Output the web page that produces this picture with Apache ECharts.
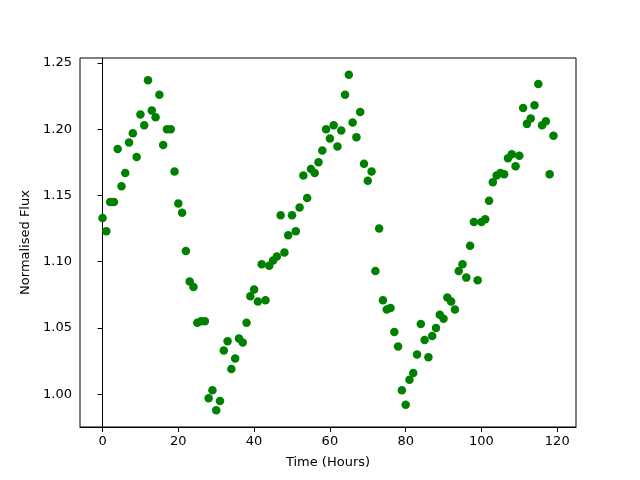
<!DOCTYPE html>
<html>
<head>
<meta charset="utf-8">
<script src="https://cdn.jsdelivr.net/npm/echarts@6/dist/echarts.min.js"></script>
<style>
  html, body { margin: 0; padding: 0; background: #fff; }
  #chart { width: 640px; height: 480px; }
</style>
</head>
<body>
<div id="chart"></div>
<script>
  // hours 0..119, one reading per hour
  var hours = []
  for (var i = 0; i < 120; i++) hours.push(i)

  var flux = [
    1.133, 1.123, 1.145, 1.145, 1.185, 1.157, 1.167, 1.190, 1.197, 1.179,
    1.211, 1.203, 1.237, 1.214, 1.209, 1.226, 1.188, 1.200, 1.200, 1.168,
    1.144, 1.137, 1.108, 1.085, 1.081, 1.054, 1.055, 1.055, 0.997, 1.003,
    0.988, 0.995, 1.033, 1.040, 1.019, 1.027, 1.042, 1.039, 1.054, 1.074,
    1.079, 1.070, 1.098, 1.071, 1.097, 1.101, 1.104, 1.135, 1.107, 1.120,
    1.135, 1.123, 1.141, 1.165, 1.148, 1.170, 1.167, 1.175, 1.184, 1.200,
    1.193, 1.203, 1.187, 1.199, 1.226, 1.241, 1.205, 1.194, 1.213, 1.174,
    1.161, 1.168, 1.093, 1.125, 1.071, 1.064, 1.065, 1.047, 1.036, 1.003,
    0.992, 1.011, 1.016, 1.030, 1.053, 1.041, 1.028, 1.044, 1.050, 1.060,
    1.057, 1.073, 1.070, 1.064, 1.093, 1.098, 1.088, 1.112, 1.130, 1.086,
    1.130, 1.132, 1.146, 1.160, 1.165, 1.167, 1.166, 1.178, 1.181, 1.172,
    1.180, 1.216, 1.204, 1.208, 1.218, 1.234, 1.203, 1.206, 1.166, 1.195
  ]

  var xTicks = [0, 20, 40, 60, 80, 100, 120]
  var yTicks = [1.00, 1.05, 1.10, 1.15, 1.20, 1.25]

  var chart = echarts.init(document.getElementById('chart'))
  var font = 'DejaVu Sans'
  chart.setOption({
    animation: false,
    grid: {
      left: 80, right: 64, top: 58, bottom: 53,
      show: true, borderColor: '#000', borderWidth: 1
    },
    xAxis: {
      type: 'value',
      min: -5.95, max: 124.95,
      name: 'Time (Hours)',
      nameLocation: 'middle',
      nameGap: 29,
      nameTextStyle: { color: '#000', fontSize: 13, fontFamily: font },
      axisLine: { show: true, lineStyle: { color: '#000', width: 1 } },
      axisTick: { show: true, length: 5, lineStyle: { color: '#000' }, customValues: xTicks },
      axisLabel: { color: '#000', fontSize: 13, fontFamily: font, margin: 8, customValues: xTicks },
      splitLine: { show: false }
    },
    yAxis: {
      type: 'value',
      min: 0.9753, max: 1.2537,
      name: 'Normalised Flux',
      nameLocation: 'middle',
      nameGap: 47,
      nameTextStyle: { color: '#000', fontSize: 13, fontFamily: font },
      axisLine: { show: true, lineStyle: { color: '#000', width: 1 } },
      axisTick: { show: true, length: 5, lineStyle: { color: '#000' }, customValues: yTicks },
      axisLabel: {
        color: '#000', fontSize: 13, fontFamily: font, margin: 8, customValues: yTicks,
        formatter: function (v) { return v.toFixed(2) }
      },
      splitLine: { show: false }
    },
    series: [
      {
        type: 'scatter',
        data: hours.map(function (h, i) { return [h, flux[i]] }),
        symbol: 'circle',
        symbolSize: 8.5,
        itemStyle: { color: '#008000', opacity: 1 }
      }
    ]
  })
</script>
</body>
</html>
